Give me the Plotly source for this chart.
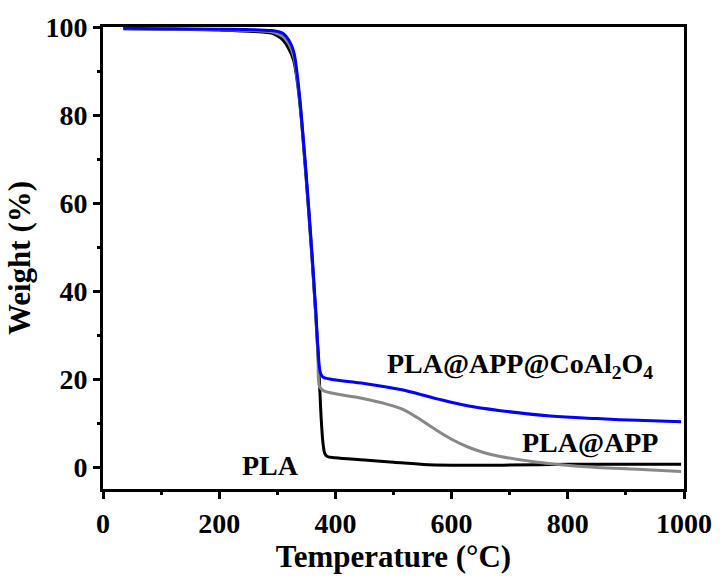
import plotly.graph_objects as go

# PLA (black)
pla_T = [35, 100, 200, 260, 290, 300, 310, 320, 328, 334, 340, 350, 360, 366, 370, 373, 376, 379, 382, 386, 400, 450, 500, 560, 650, 750, 800, 900, 995]
pla_W = [99.6, 99.5, 99.3, 99.0, 98.6, 98.0, 97.0, 95.0, 92.5, 88.0, 81.0, 65.0, 47.0, 35.0, 26.0, 18.0, 10.0, 5.0, 3.0, 2.4, 2.1, 1.6, 1.1, 0.5, 0.4, 0.5, 0.6, 0.6, 0.6]

# PLA@APP (gray)
app_T = [35, 100, 200, 260, 290, 300, 310, 320, 328, 334, 340, 350, 360, 366, 370, 373, 380, 443, 480, 512, 540, 569, 600, 627, 655, 684, 741, 788, 850, 920, 995]
app_W = [99.6, 99.5, 99.4, 99.2, 98.9, 98.5, 97.8, 96.2, 93.5, 88.5, 81.5, 65.5, 47.5, 35.0, 25.0, 18.2, 17.3, 15.7, 14.6, 13.3, 11.3, 8.8, 6.3, 4.6, 3.3, 2.4, 1.2, 0.5, -0.1, -0.5, -1.0]

# PLA@APP@CoAl2O4 (blue)
co_T = [35, 100, 200, 260, 290, 300, 310, 320, 328, 334, 340, 350, 360, 366, 370, 374, 378, 390, 450, 512, 569, 627, 684, 770, 850, 920, 995]
co_W = [99.7, 99.6, 99.5, 99.4, 99.2, 99.0, 98.5, 97.0, 94.5, 89.5, 82.0, 66.0, 48.0, 36.0, 27.0, 21.5, 20.5, 20.0, 19.0, 17.6, 15.7, 13.9, 12.8, 11.6, 11.0, 10.6, 10.3]

x_ticks = [0, 200, 400, 600, 800, 1000]
y_ticks = [0, 20, 40, 60, 80, 100]

font = "Liberation Serif"

fig = go.Figure()
fig.add_trace(go.Scatter(x=pla_T, y=pla_W, mode="lines", line=dict(color="#000000", width=3), line_shape="spline", name="PLA"))
fig.add_trace(go.Scatter(x=app_T, y=app_W, mode="lines", line=dict(color="#888888", width=3), line_shape="spline", name="PLA@APP"))
fig.add_trace(go.Scatter(x=co_T, y=co_W, mode="lines", line=dict(color="#0000FF", width=3), line_shape="spline", name="PLA@APP@CoAl2O4"))

ann_font = dict(family=font, size=28, color="black")
fig.add_annotation(x=717, y=23.1, text="<b>PLA@APP@CoAl<sub>2</sub>O<sub>4</sub></b>", showarrow=False, font=ann_font)
fig.add_annotation(x=838, y=5.6, text="<b>PLA@APP</b>", showarrow=False, font=ann_font)
fig.add_annotation(x=289, y=0.3, text="<b>PLA</b>", showarrow=False, font=ann_font)

axis_common = dict(
    showline=True, linewidth=3, linecolor="black", mirror=True,
    ticks="outside", ticklen=7, tickwidth=3, tickcolor="black",
    showgrid=False, zeroline=False,
    tickfont=dict(family=font, size=28, color="black"),
)

fig.update_xaxes(
    range=[0, 1000], tickvals=x_ticks, ticktext=[f"<b>{v}</b>" for v in x_ticks],
    minor=dict(ticks="outside", ticklen=3, tickwidth=3, tickcolor="black", dtick=100, tick0=0),
    title=dict(text="<b>Temperature (°C)</b>", font=dict(family=font, size=31, color="black"), standoff=2),
    **axis_common,
)
fig.update_yaxes(
    range=[-5, 100], tickvals=y_ticks, ticktext=[f"<b>{v}</b>" for v in y_ticks],
    minor=dict(ticks="outside", ticklen=3, tickwidth=3, tickcolor="black", dtick=10, tick0=0),
    title=dict(text="<b>Weight (%)</b>", font=dict(family=font, size=31, color="black"), standoff=6),
    **axis_common,
)

fig.update_layout(
    width=724, height=578,
    margin=dict(l=103, r=39, t=22, b=89),
    plot_bgcolor="white", paper_bgcolor="white",
    showlegend=False,
)

fig.write_html("out.html")
